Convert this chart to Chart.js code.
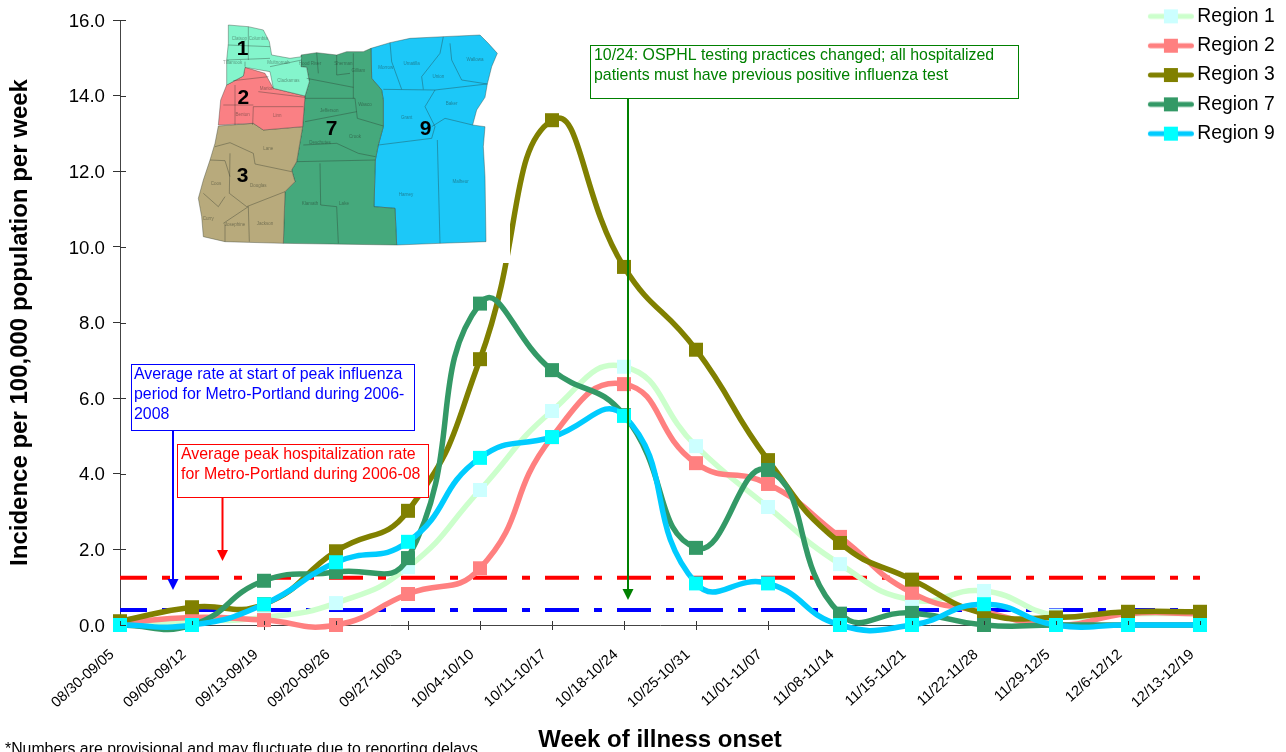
<!DOCTYPE html>
<html><head><meta charset="utf-8">
<style>html,body{margin:0;padding:0;background:#fff;overflow:hidden}#w{position:relative;width:1286px;height:752px}</style>
<script src="https://cdn.jsdelivr.net/npm/chart.js@4"></script>
</head><body><div id="w"><canvas id="c" width="1286" height="752"></canvas></div>
<script>
const categories = ["08/30-09/05","09/06-09/12","09/13-09/19","09/20-09/26","09/27-10/03","10/04-10/10","10/11-10/17","10/18-10/24","10/25-10/31","11/01-11/07","11/08-11/14","11/15-11/21","11/22-11/28","11/29-12/5","12/6-12/12","12/13-12/19"];
const region1 = [0.05,0.1,0.2,0.58,1.53,3.57,5.66,6.83,4.73,3.12,1.61,0.66,0.9,0.25,0.3,0.3];
const region2 = [0.05,0.2,0.13,0,0.82,1.5,4.97,6.37,4.28,3.73,2.33,0.85,0.35,0,0.3,0.3];
const region3 = [0.1,0.47,0.55,1.95,3.02,7.03,13.35,9.47,7.28,4.36,2.17,1.2,0.3,0.2,0.35,0.35];
const region7 = [0,0,1.17,1.4,1.77,8.5,6.74,5.55,2.04,4.1,0.3,0.32,0,0,0,0];
const region9 = [0,0,0.55,1.66,2.2,4.42,4.97,5.53,1.1,1.1,0,0,0.55,0,0,0];
const peakRate = categories.map(()=>1.25);
const startRate = categories.map(()=>0.4);
const yTitle = "Incidence per 100,000 population per week";
const xTitle = "Week of illness onset";
const footnote = "*Numbers are provisional and may fluctuate due to reporting delays";
const FONT = "'Liberation Sans', Arial, sans-serif";

function icon(line, mark){
  const c=document.createElement('canvas');c.width=48;c.height=16;
  const g=c.getContext('2d');g.strokeStyle=line;g.lineWidth=5;g.lineCap='round';
  g.beginPath();g.moveTo(3.5,8);g.lineTo(44.5,8);g.stroke();
  g.fillStyle=mark;g.fillRect(17,1,14,14);return c;
}
function series(label,data,line,mark,order){
  return {label,data,borderColor:line,backgroundColor:mark,borderWidth:5.5,tension:0.5,order,
    cubicInterpolationMode:'default',capBezierPoints:false,clip:false,pointStyle:'rect',pointRadius:9.9,
    pointBorderWidth:0,pointBackgroundColor:mark,pointBorderColor:mark,_icon:icon(line,mark)};
}
function refLine(label,data,color,order){
  return {label,data,borderColor:color,borderWidth:4,borderDash:[34,15,8,15],borderDashOffset:7,tension:0,
    pointRadius:0,order,clip:false,borderCapStyle:'butt'};
}
const datasets=[
  series("Region 1",region1,"#CCFFCC","#CCFFFF",5),
  series("Region 2",region2,"#FF8080","#FF8080",4),
  series("Region 3",region3,"#808000","#808000",3),
  series("Region 7",region7,"#339966","#339966",2),
  series("Region 9",region9,"#00CCFF","#00FFFF",1),
  refLine("Average peak hospitalization rate",peakRate,"#FF0000",7),
  refLine("Average rate at start of peak",startRate,"#0000FF",6)
];

// Inset map of Oregon regions (decorative picture outlines, in map-local units)
const MAP_X=190, MAP_Y=10, MAP_S=1/3;
const mapShapes=[
 {fill:"#1CC8F8",pts:[[543,115],[600,98],[660,85],[760,80],[870,75],[895,100],[922,130],[905,170],[892,222],[885,262],[860,300],[848,345],[885,350],[880,410],[885,500],[888,695],[750,700],[620,705],[615,595],[552,590],[556,450],[565,405],[580,350],[580,270],[575,240],[545,205]]},
 {fill:"#45A97C",pts:[[333,135],[380,128],[440,135],[470,125],[520,125],[543,115],[545,205],[575,240],[580,270],[580,350],[565,405],[556,450],[552,590],[615,595],[620,705],[280,700],[285,545],[315,515],[305,480],[320,455],[338,350],[345,258],[358,215],[350,172],[333,170]]},
 {fill:"#B8AA7C",pts:[[85,348],[190,340],[220,360],[338,350],[320,455],[305,480],[315,515],[285,545],[280,700],[105,695],[40,680],[35,620],[25,565],[40,510],[60,450],[75,400]]},
 {fill:"#FA8084",pts:[[165,172],[225,190],[250,235],[345,258],[338,350],[220,360],[190,340],[85,345],[92,270],[110,225],[160,198]]},
 {fill:"#84F5CC",pts:[[115,45],[175,50],[220,60],[238,95],[245,135],[300,145],[335,140],[333,170],[350,172],[358,215],[345,258],[250,235],[240,185],[165,172],[160,198],[110,225],[110,150],[115,100]]}
];
const mapLines=[
 [[600,98],[605,155],[635,238]],[[760,80],[750,130],[695,200],[700,238]],[[780,100],[785,150],[815,210],[892,222]],
 [[580,238],[735,240],[705,290],[735,350],[725,385],[565,405]],[[735,240],[890,222]],[[725,350],[765,325],[848,345]],
 [[742,390],[750,700]],[[390,460],[392,585],[440,590],[445,700]],[[320,455],[556,450]],
 [[345,265],[495,265],[502,325],[580,348]],[[345,335],[500,305]],[[340,405],[440,400],[505,430],[556,440]],
 [[490,130],[490,265]],[[350,205],[490,232]],[[380,128],[385,190]],[[440,135],[440,195],[480,190]],
 [[75,410],[120,398],[190,430],[195,462],[305,485]],[[120,430],[118,550],[170,590],[285,545]],
 [[60,450],[105,452],[120,500]],[[40,550],[85,590],[105,560]],[[100,640],[175,590]],[[175,590],[178,695]],[[105,640],[105,695]],
 [[135,225],[135,345]],[[190,290],[340,290]],[[205,245],[345,262]],[[100,285],[190,285]],[[130,212],[235,200]],[[190,290],[188,345]],
 [[115,105],[240,110]],[[175,50],[175,150]],[[110,150],[240,145]],[[165,155],[165,170]],[[240,170],[335,150]]
];
const mapNames=[["Wallowa",855,150],["Union",745,200],["Baker",785,282],["Grant",650,322],["Harney",648,553],["Malheur",812,516],["Umatilla",665,162],["Morrow",587,172],["Gilliam",505,182],["Wasco",525,284],["Jefferson",418,302],["Crook",495,380],["Deschutes",390,398],["Klamath",360,580],["Lake",462,580],["Clackamas",295,213],["Marion",230,235],["Linn",262,318],["Lane",235,417],["Douglas",205,526],["Coos",78,522],["Curry",55,625],["Josephine",135,645],["Jackson",225,640],["Benton",158,313],["Clatsop",148,85],["Columbia",205,85],["Tillamook",128,158],["Multnomah",265,158],["Hood River",360,160],["Sherman",460,162]];
const mapNums=[["1",158,118],["2",160,265],["7",425,357],["9",707,357],["3",158,500]];
const boxes=[
 {x:131,y:364,w:284,h:67,color:"#0000FF",tx:134,lines:["Average rate at start of peak influenza","period for Metro-Portland during 2006-","2008"],ly:[375,395,415],arrow:{x:173,y0:431,y1:590}},
 {x:177,y:444,w:252,h:54,color:"#FF0000",tx:181,lines:["Average peak hospitalization rate","for Metro-Portland during 2006-08"],ly:[455,475],arrow:{x:222.5,y0:498,y1:561}},
 {x:590,y:45,w:429,h:54,color:"#008000",tx:594,lines:["10/24: OSPHL testing practices changed; all hospitalized","patients must have previous positive influenza test"],ly:[56,76],arrow:{x:628,y0:99,y1:600}}
];

const overlay={
  id:'overlay',
  beforeDraw(chart){
    const l=chart.legend; if(l){l.left=1144.2;l.right=1286;l.top=-3.3;l.bottom=170;}
  },
  afterDatasetsDraw(chart){
    const g=chart.ctx; g.save();
    // map
    g.fillStyle="#fff"; g.fillRect(193,12,317,251);
    const P=p=>[MAP_X+p[0]*MAP_S,MAP_Y+p[1]*MAP_S];
    g.save(); g.filter='blur(0.4px)';
    for(const s of mapShapes){
      g.beginPath(); s.pts.forEach((p,i)=>{const q=P(p); i?g.lineTo(q[0],q[1]):g.moveTo(q[0],q[1]);}); g.closePath();
      g.fillStyle=s.fill; g.fill();
      g.strokeStyle="rgba(50,60,50,0.55)"; g.lineWidth=0.7; g.stroke();
    }
    g.strokeStyle="rgba(40,50,40,0.5)"; g.lineWidth=0.7;
    for(const ln of mapLines){g.beginPath(); ln.forEach((p,i)=>{const q=P(p); i?g.lineTo(q[0],q[1]):g.moveTo(q[0],q[1]);}); g.stroke();}
    g.restore();
    g.textAlign='center'; g.textBaseline='middle';
    g.fillStyle="rgba(30,40,30,0.45)"; g.font="4.5px "+FONT;
    for(const n of mapNames){const q=P([n[1],n[2]]); g.fillText(n[0],q[0],q[1]);}
    g.fillStyle="#000"; g.font="bold 21px "+FONT;
    for(const n of mapNums){const q=P([n[1],n[2]]); g.fillText(n[0],q[0],q[1]);}
    // callouts
    for(const b of boxes){
      const a=b.arrow;
      g.strokeStyle=b.color; g.lineWidth=2; g.beginPath(); g.moveTo(a.x,a.y0); g.lineTo(a.x,a.y1-8); g.stroke();
      g.fillStyle=b.color; g.beginPath(); g.moveTo(a.x,a.y1); g.lineTo(a.x-5.5,a.y1-11); g.lineTo(a.x+5.5,a.y1-11); g.closePath(); g.fill();
      g.fillStyle="#fff"; g.fillRect(b.x,b.y,b.w,b.h);
      g.strokeStyle=b.color; g.lineWidth=1; g.strokeRect(b.x+.5,b.y+.5,b.w-1,b.h-1);
      g.fillStyle=b.color; g.font="15.9px "+FONT; g.textAlign='left'; g.textBaseline='middle';
      b.lines.forEach((t,i)=>g.fillText(t,b.tx,b.ly[i]));
    }
    // inner half of the cross tick marks
    const xs=chart.scales.x, ys=chart.scales.y;
    g.strokeStyle="#333"; g.lineWidth=1; g.beginPath();
    ys.ticks.forEach((t,i)=>{const y=Math.round(ys.getPixelForTick(i))+.5; g.moveTo(xs.left,y); g.lineTo(xs.left+6,y);});
    xs.ticks.forEach((t,i)=>{const x=Math.round(xs.getPixelForTick(i))+.5; g.moveTo(x,ys.bottom); g.lineTo(x,ys.bottom-4);});
    g.stroke();
    // footnote
    g.fillStyle="#000"; g.font="15.85px "+FONT; g.textAlign='left'; g.textBaseline='alphabetic';
    g.fillText(footnote,5,754);
    g.restore();
  }
};

new Chart(document.getElementById('c'),{
  type:'line',
  data:{labels:categories,datasets},
  plugins:[overlay],
  options:{
    responsive:false,animation:false,devicePixelRatio:1,
    layout:{padding:{top:20,right:86,left:0,bottom:0}},
    plugins:{
      tooltip:{enabled:false},
      legend:{
        display:true,position:'chartArea',align:'start',
        labels:{
          usePointStyle:true,pointStyleWidth:33.4,boxHeight:16,padding:10,color:'#000',
          font:{family:FONT,size:19.33},
          sort:(a,b)=>a.datasetIndex-b.datasetIndex,
          filter:it=>/^Region/.test(it.text),
          generateLabels(chart){
            return Chart.defaults.plugins.legend.labels.generateLabels(chart).map(it=>{
              const d=chart.data.datasets[it.datasetIndex];
              return {...it,pointStyle:d._icon};
            });
          }
        }
      }
    },
    scales:{
      x:{
        type:'category',offset:false,
        afterFit(s){s.height=127;},
        grid:{display:true,drawOnChartArea:false,drawTicks:true,tickLength:5,color:'#333',lineWidth:1},
        border:{display:true,color:'#444',width:1},
        ticks:{autoSkip:false,maxRotation:42,minRotation:42,color:'#000',padding:16,labelOffset:-8,font:{family:FONT,size:14.67}},
        title:{display:true,text:xTitle,color:'#000',font:{family:FONT,size:24,weight:'bold'},padding:{top:0,bottom:-3}}
      },
      y:{
        min:0,max:16,
        afterFit(s){s.width=120;},
        grid:{display:true,drawOnChartArea:false,drawTicks:true,tickLength:7,color:'#333',lineWidth:1},
        border:{display:true,color:'#444',width:1},
        ticks:{stepSize:2,color:'#000',padding:8,labelOffset:1.5,font:{family:FONT,size:18.67},callback:v=>Number(v).toFixed(1)},
        title:{display:true,text:yTitle,color:'#000',font:{family:FONT,size:24,weight:'bold'},padding:{top:6,bottom:0}}
      }
    }
  }
});
</script></body></html>
